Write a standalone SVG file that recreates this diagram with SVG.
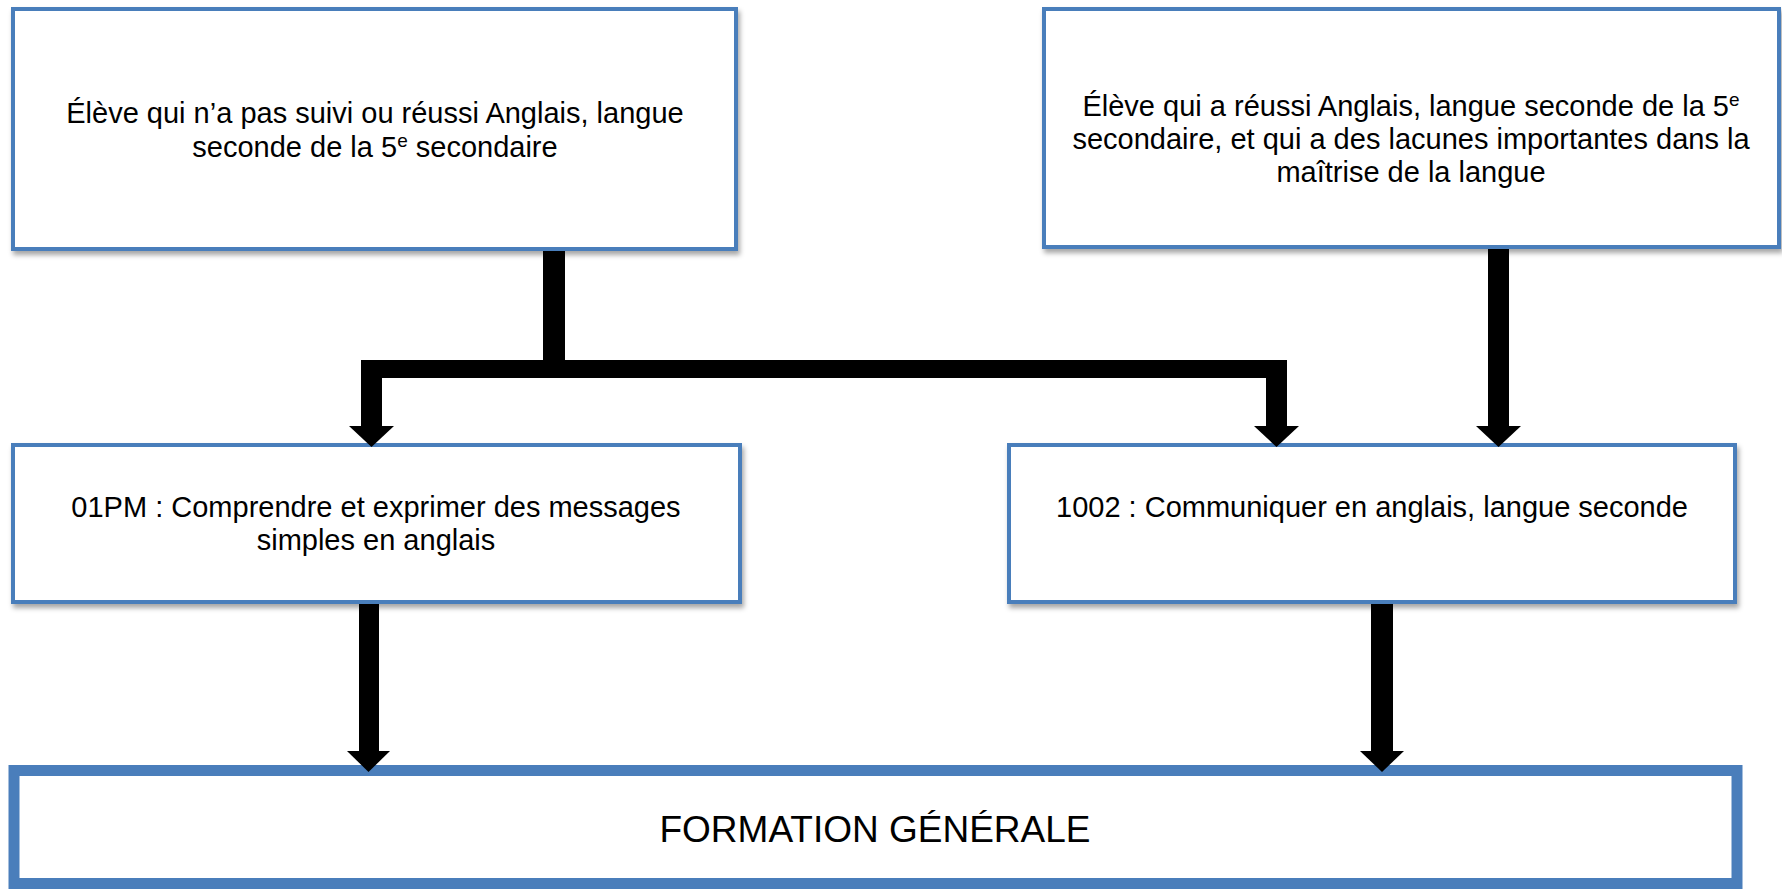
<svg xmlns="http://www.w3.org/2000/svg" width="1782" height="891" viewBox="0 0 1782 891">
  <defs>
    <filter id="sh" x="-5%" y="-5%" width="110%" height="120%">
      <feDropShadow dx="2" dy="4" stdDeviation="2.5" flood-color="#000" flood-opacity="0.35"/>
    </filter>
  </defs>
  <style>
    .box { fill: #ffffff; stroke: #4A7EBB; stroke-width: 4; }
    .big { fill: #ffffff; stroke: #4A7EBB; stroke-width: 11; }
    .t { font-family: "Liberation Sans", Arial, sans-serif; font-size: 29px; fill: #000; text-anchor: middle; }
    .tb { font-family: "Liberation Sans", Arial, sans-serif; font-size: 37px; fill: #000; text-anchor: middle; }
    .sup { font-size: 19px; }
    .c { fill: #000; }
  </style>
  <rect width="1782" height="891" fill="#ffffff"/>

  <g id="nodeA">
    <rect class="box" x="13" y="9" width="723" height="240" filter="url(#sh)"/>
    <text class="t" x="375" y="123">Élève qui n’a pas suivi ou réussi Anglais, langue</text>
    <text class="t" x="375" y="157">seconde de la 5<tspan class="sup" dy="-10">e</tspan><tspan dy="10"> secondaire</tspan></text>
  </g>

  <g id="nodeB">
    <rect class="box" x="1044" y="9" width="735" height="238" filter="url(#sh)"/>
    <text class="t" x="1411" y="116">Élève qui a réussi Anglais, langue seconde de la 5<tspan class="sup" dy="-10">e</tspan></text>
    <text class="t" x="1411" y="149">secondaire, et qui a des lacunes importantes dans la</text>
    <text class="t" x="1411" y="182">maîtrise de la langue</text>
  </g>

  <g id="nodeC">
    <rect class="box" x="13" y="445" width="727" height="157" filter="url(#sh)"/>
    <text class="t" x="376" y="517">01PM : Comprendre et exprimer des messages</text>
    <text class="t" x="376" y="550">simples en anglais</text>
  </g>

  <g id="nodeD">
    <rect class="box" x="1009" y="445" width="726" height="157" filter="url(#sh)"/>
    <text class="t" x="1372" y="517">1002 : Communiquer en anglais, langue seconde</text>
  </g>

  <g id="nodeE">
    <rect class="big" x="14" y="770.5" width="1723" height="113"/>
    <text class="tb" x="875" y="842">FORMATION GÉNÉRALE</text>
  </g>

  <g id="connectors">
    <rect class="c" x="543" y="251" width="22" height="127"/>
    <rect class="c" x="361" y="360" width="926" height="18"/>
    <rect class="c" x="361" y="360" width="21" height="67"/>
    <polygon class="c" points="349,426 394,426 371.5,447"/>
    <rect class="c" x="1266" y="360" width="21" height="67"/>
    <polygon class="c" points="1254,426 1299,426 1276.5,447"/>
    <rect class="c" x="1488" y="249" width="21" height="178"/>
    <polygon class="c" points="1476,426 1521,426 1498.5,447"/>
    <rect class="c" x="359" y="604" width="20" height="148"/>
    <polygon class="c" points="347,751 390,751 368.5,772"/>
    <rect class="c" x="1371" y="604" width="22" height="148"/>
    <polygon class="c" points="1360,751 1404,751 1382,772"/>
  </g>
</svg>
